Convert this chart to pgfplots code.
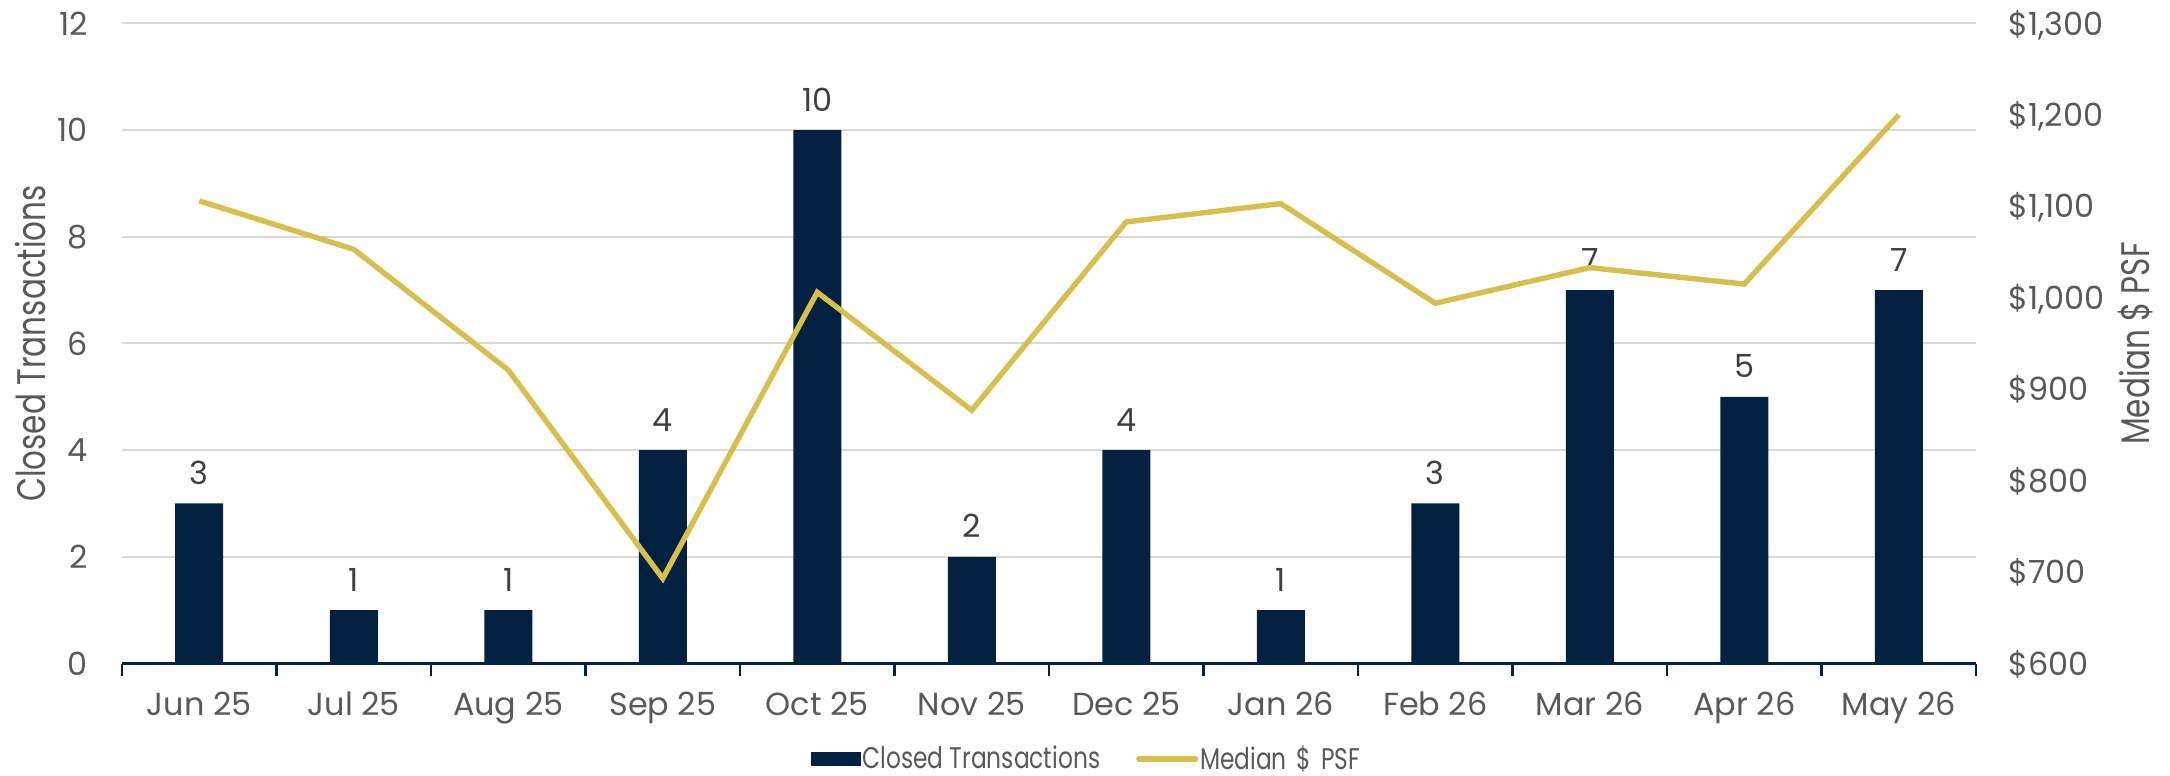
\documentclass[border=0pt]{standalone}
\usepackage{fontspec}
\setmainfont{Poppins}
\newfontfamily\condfont[FakeStretch=0.78]{Poppins}
\usepackage{pgfplots}
\pgfplotsset{compat=1.18}
\definecolor{navy}{HTML}{02203F}
\definecolor{gold}{HTML}{D4BF4F}
\definecolor{ticktext}{HTML}{595959}
\definecolor{labeltext}{HTML}{404040}
\definecolor{gridc}{HTML}{D9D9D9}
\begin{document}
\begin{tikzpicture}
\useasboundingbox (-61bp,-56bp) rectangle (1024bp,331.75bp);
\begin{axis}[
  at={(0,0)}, anchor=south west, scale only axis,
  width=927bp, height=320bp,
  xmin=-0.5, xmax=11.5, ymin=0, ymax=12,
  ytick={0,2,...,12},
  xtick={0,...,11},
  xticklabels={Jun 25,Jul 25,Aug 25,Sep 25,Oct 25,Nov 25,Dec 25,Jan 26,Feb 26,Mar 26,Apr 26,May 26},
  minor xtick={-0.5,0.5,...,11.5},
  tick align=outside,
  major tick length=0bp, minor tick length=6bp,
  minor x tick style={draw=navy, line width=1.2bp},
  major tick style={draw=none},
  axis x line*=bottom, axis y line*=left,
  x axis line style={draw=navy, line width=1.2bp, -},
  y axis line style={draw=none},
  ymajorgrids, grid style={draw=gridc, line width=1bp},
  /pgf/number format/assume math mode=true,
  ticklabel style={font=\fontsize{16}{16}\selectfont, text=ticktext, inner sep=0pt},
  xticklabel style={anchor=base, yshift=-26bp},
  yticklabel style={anchor=base east, xshift=-17bp, yshift=-5.8bp},
  ylabel={Closed Transactions},
  every axis y label/.style={at={(axis description cs:-0.0496,0.5)}, rotate=90, anchor=center, font=\condfont\fontsize{20}{20}\selectfont, text=ticktext},
  ybar, bar width=24bp,
  nodes near coords,
  nodes near coords style={font=\fontsize{16}{16}\selectfont, text=labeltext, inner sep=0pt, anchor=base, yshift=9.5bp},
  legend style={at={(axis description cs:0.5202,-0.149)}, anchor=center, draw=none, fill=none,
    legend columns=-1, font=\condfont\fontsize{15}{15}\selectfont, text=ticktext,
    /tikz/every even column/.append style={column sep=17bp},
    nodes={inner sep=1bp}},
]
\addplot[fill=navy, draw=none,
  legend image code/.code={\fill[navy] (0bp,-3.5bp) rectangle (25bp,3.5bp);}]
  coordinates {(0,3) (1,1) (2,1) (3,4) (4,10) (5,2) (6,4) (7,1) (8,3) (9,7) (10,5) (11,7)};
\addlegendentry{Closed Transactions}
\addlegendimage{legend image code/.code={\draw[gold, line width=3bp, line cap=round] (0bp,0bp) -- (28bp,0bp);}}
\addlegendentry{Median\hspace{5bp}\$\hspace{5bp}PSF}
\end{axis}
\begin{axis}[
  at={(0,0)}, anchor=south west, scale only axis,
  width=927bp, height=320bp,
  xmin=-0.5, xmax=11.5, ymin=600, ymax=1300,
  ytick={600,700,...,1300},
  yticklabels={\$600,\$700,\$800,\$900,{\$1,000},{\$1,100},{\$1,200},{\$1,300}},
  axis x line=none,
  axis y line*=right,
  y axis line style={draw=none},
  major tick style={draw=none},
  ticklabel style={font=\fontsize{16}{16}\selectfont, text=ticktext, inner sep=0pt},
  yticklabel style={anchor=base west, xshift=16bp, yshift=-5.8bp},
  ylabel={Median\hspace{4bp}\$\hspace{4bp}PSF},
  every axis y label/.style={at={(axis description cs:1.0858,0.5)}, rotate=90, anchor=center, font=\condfont\fontsize{20}{20}\selectfont, text=ticktext},
]
\addplot[gold, line width=2.7bp, line join=miter, mark=none]
  coordinates {(0,1106) (1,1053) (2,921) (3,693) (4,1006) (5,877) (6,1083) (7,1103) (8,994) (9,1033) (10,1015) (11,1200)};
\end{axis}
\end{tikzpicture}
\end{document}
